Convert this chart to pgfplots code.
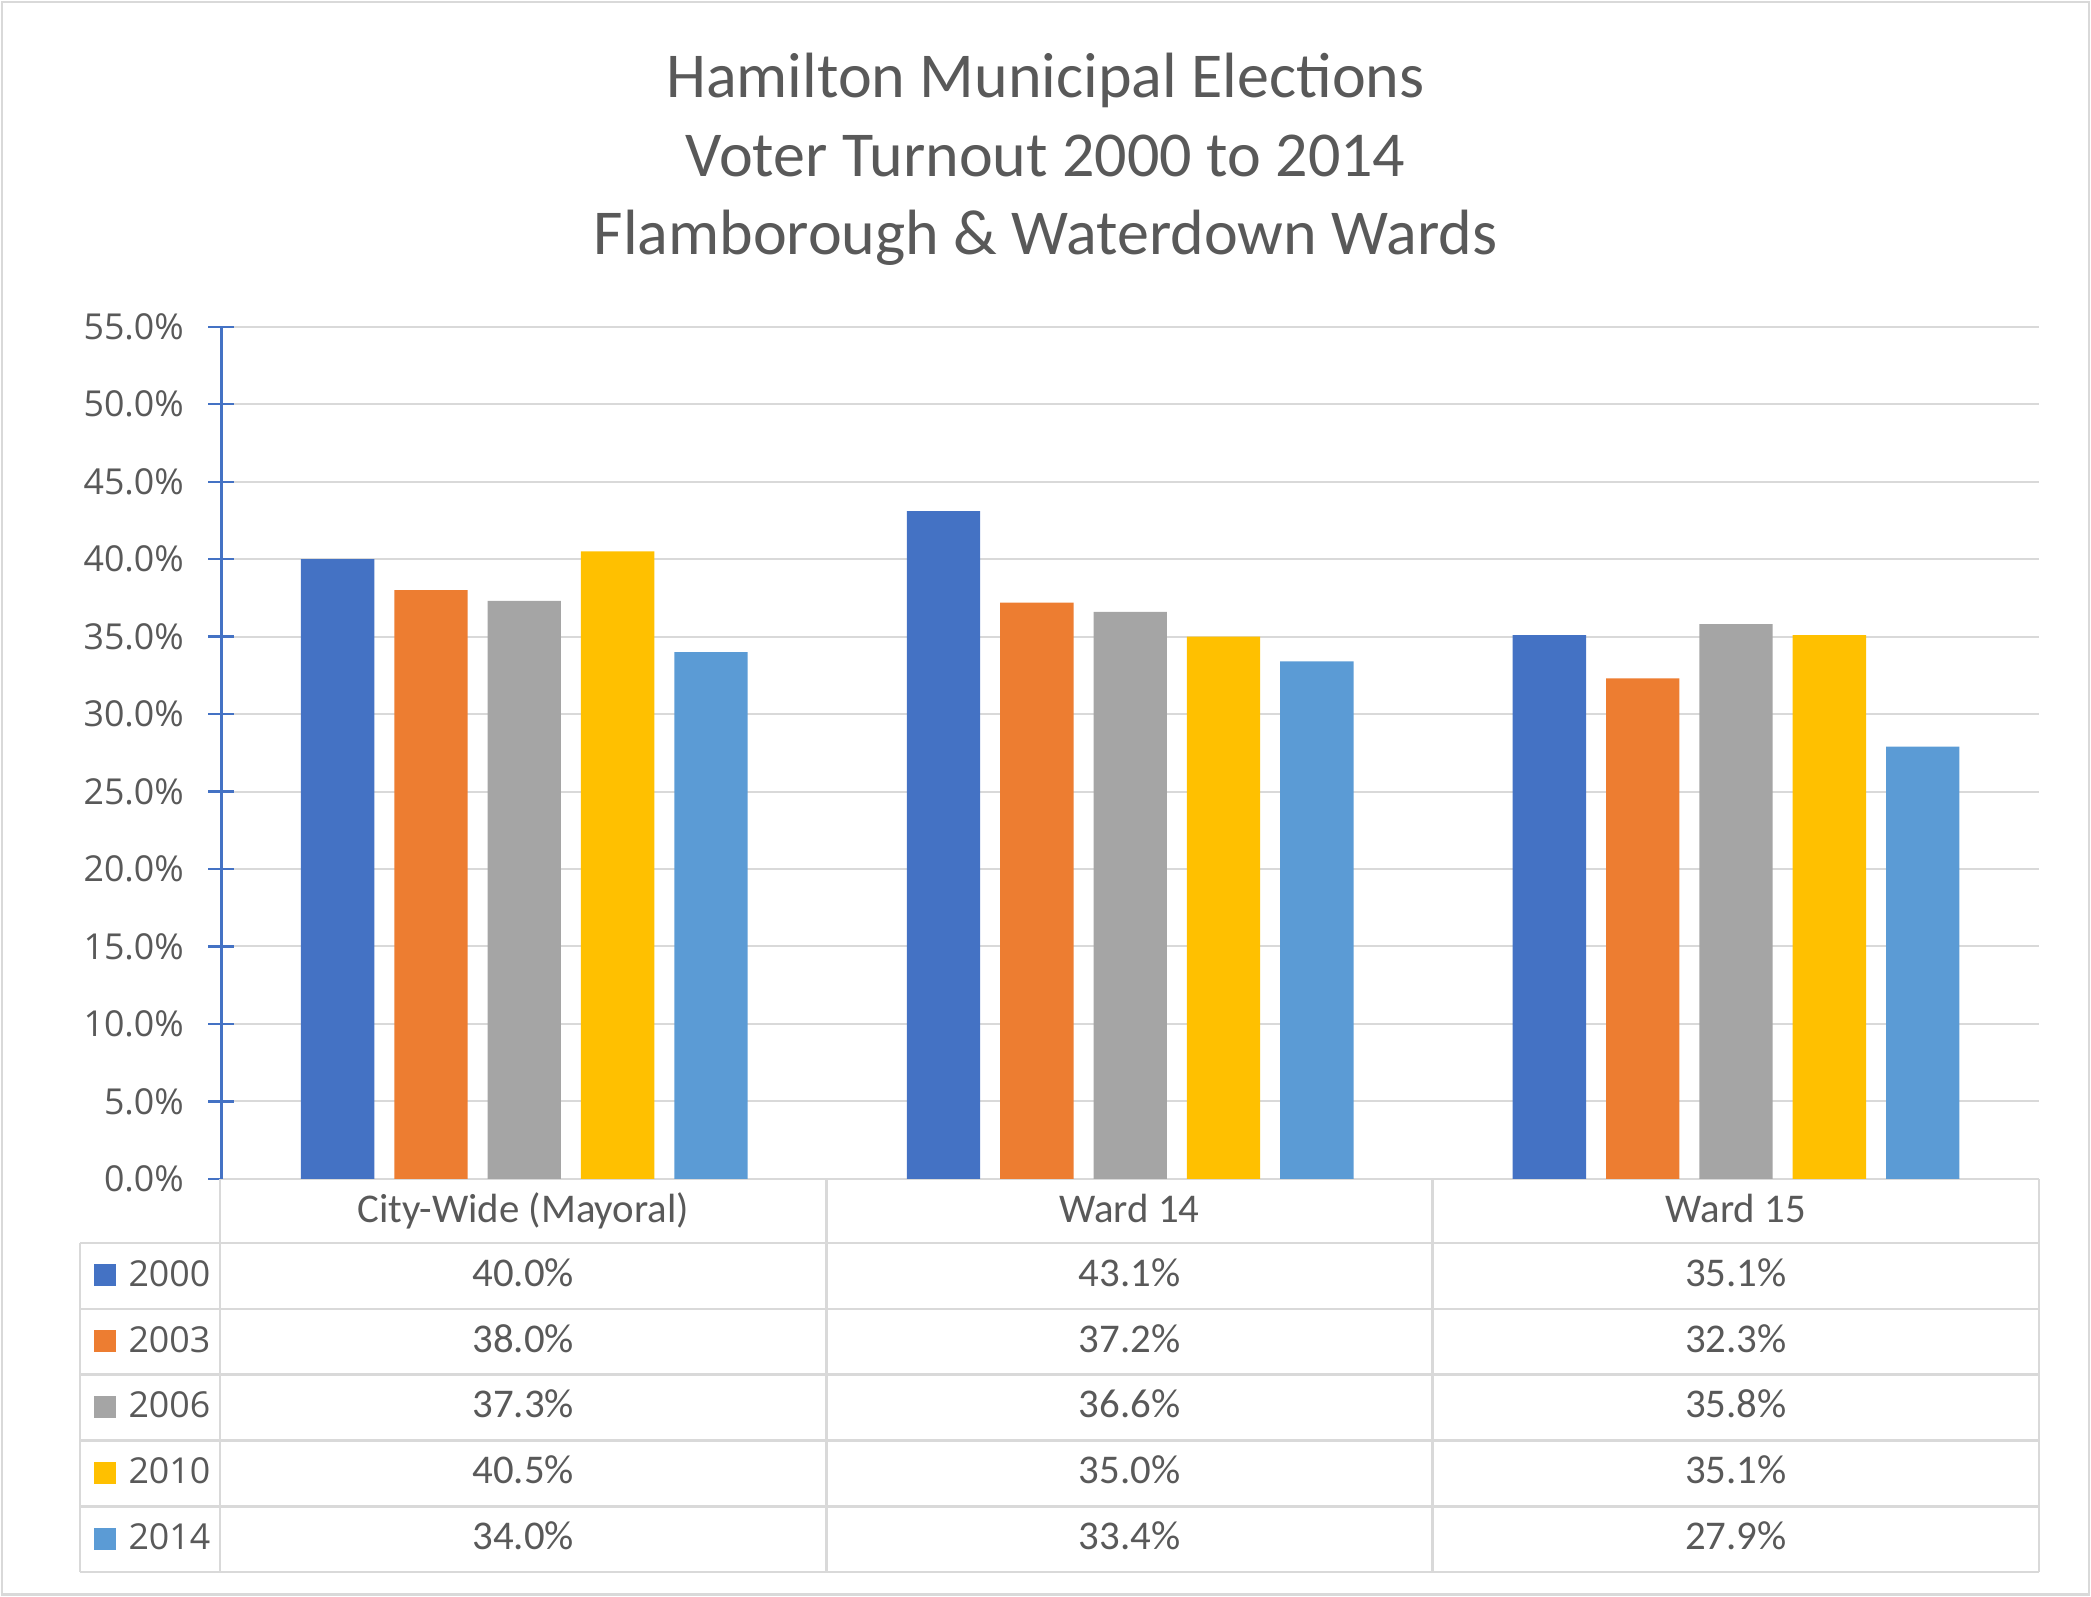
\documentclass[border=0pt]{standalone}
\usepackage{pgfplots}
\pgfplotsset{compat=1.18}
\usepackage{pgfplotstable}
\usepackage{fontspec}
\setmainfont{Carlito}
\newfontfamily\uifont{Open Sans}

\definecolor{c2000}{HTML}{4472C4}
\definecolor{c2003}{HTML}{ED7D31}
\definecolor{c2006}{HTML}{A5A5A5}
\definecolor{c2010}{HTML}{FFC000}
\definecolor{c2014}{HTML}{5B9BD5}
\definecolor{txt}{HTML}{595959}
\definecolor{rule}{HTML}{D9D9D9}

% turnout in percent, one row per category (0 city-wide, 1 ward 14, 2 ward 15)
\pgfplotstableread{
x y2000 y2003 y2006 y2010 y2014
0 40.0 38.0 37.3 40.5 34.0
1 43.1 37.2 36.6 35.0 33.4
2 35.1 32.3 35.8 35.1 27.9
}\turnout

\begin{document}
\begin{tikzpicture}
% frame and title, in units of half a point
\begin{scope}[x=0.5pt,y=-0.5pt]
  \path (0,0) rectangle (1568,1197);
  \draw[rule,line width=1pt] (1.5,1.5) rectangle (1566.5,1195.5);
  \foreach \yy/\t in {73/Hamilton Municipal Elections,132/Voter Turnout 2000 to 2014,191/Flamborough \& Waterdown Wards}
    \node[anchor=base,inner sep=0pt,text=txt,font=\fontsize{24}{28}\selectfont] at (784,\yy) {\t};
\end{scope}

\begin{axis}[
  at={(83pt,-442pt)}, anchor=south west,
  scale only axis, width=681.5pt, height=319.5pt,
  xmin=-0.5, xmax=2.5, ymin=0, ymax=55,
  xtick=\empty, ytick={0,5,...,55},
  ybar=7.5pt, bar width=27.5pt,
  axis x line=bottom, axis y line=left,
  x axis line style={draw=rule,line width=0.8pt,-},
  y axis line style={draw=c2000,line width=0.85pt,-},
  ymajorgrids, grid style={draw=rule,line width=0.75pt},
  ytick style={draw=c2000,line width=0.85pt},
  tick align=center, major tick length=9.75pt,
  /pgf/number format/assume math mode=true,
  yticklabel={\pgfmathprintnumber[fixed,fixed zerofill,precision=1]{\tick}\%},
  yticklabel style={font=\uifont\fontsize{13.4}{16}\selectfont,text=txt,inner sep=0pt,anchor=east,xshift=-9pt},
]
\addplot[fill=c2000,draw=none] table[x=x,y=y2000]{\turnout};
\addplot[fill=c2003,draw=none] table[x=x,y=y2003]{\turnout};
\addplot[fill=c2006,draw=none] table[x=x,y=y2006]{\turnout};
\addplot[fill=c2010,draw=none] table[x=x,y=y2010]{\turnout};
\addplot[fill=c2014,draw=none] table[x=x,y=y2014]{\turnout};
\end{axis}

% data table below the plot
\begin{scope}[x=0.5pt,y=-0.5pt]
  \foreach \yy in {932,981.4,1030.8,1080.2,1129.6,1179}
    \draw[rule,line width=0.9pt] (60,\yy) -- (1529,\yy);
  \draw[rule,line width=0.9pt] (60,932) -- (60,1179);
  \foreach \xx in {165,619.67,1074.33,1529}
    \draw[rule,line width=0.9pt] (\xx,884) -- (\xx,1179);
  \foreach \c [count=\k from 0] in {City-Wide (Mayoral),Ward 14,Ward 15}
    \node[anchor=base,inner sep=0pt,text=txt,font=\fontsize{15.3}{18}\selectfont] at ({392.3+454.67*\k},916.5) {\c};
  \foreach \yr/\colr [count=\i from 0] in {2000/c2000,2003/c2003,2006/c2006,2010/c2010,2014/c2014} {
    \fill[\colr] (70.5,{964.5+49.4*\i-16.5}) rectangle (86.8,{964.5+49.4*\i});
    \node[anchor=base west,inner sep=0pt,text=txt,font=\uifont\fontsize{13.4}{16}\selectfont] at (96,{964.5+49.4*\i}) {\yr};
    \foreach \k in {0,1,2} {
      \pgfplotstablegetelem{\k}{y\yr}\of\turnout
      \node[anchor=base,inner sep=0pt,text=txt,font=\fontsize{15.3}{18}\selectfont] at ({392.3+454.67*\k},{964.5+49.4*\i}) {\pgfplotsretval\%};
    }
  }
\end{scope}
\end{tikzpicture}
\end{document}
